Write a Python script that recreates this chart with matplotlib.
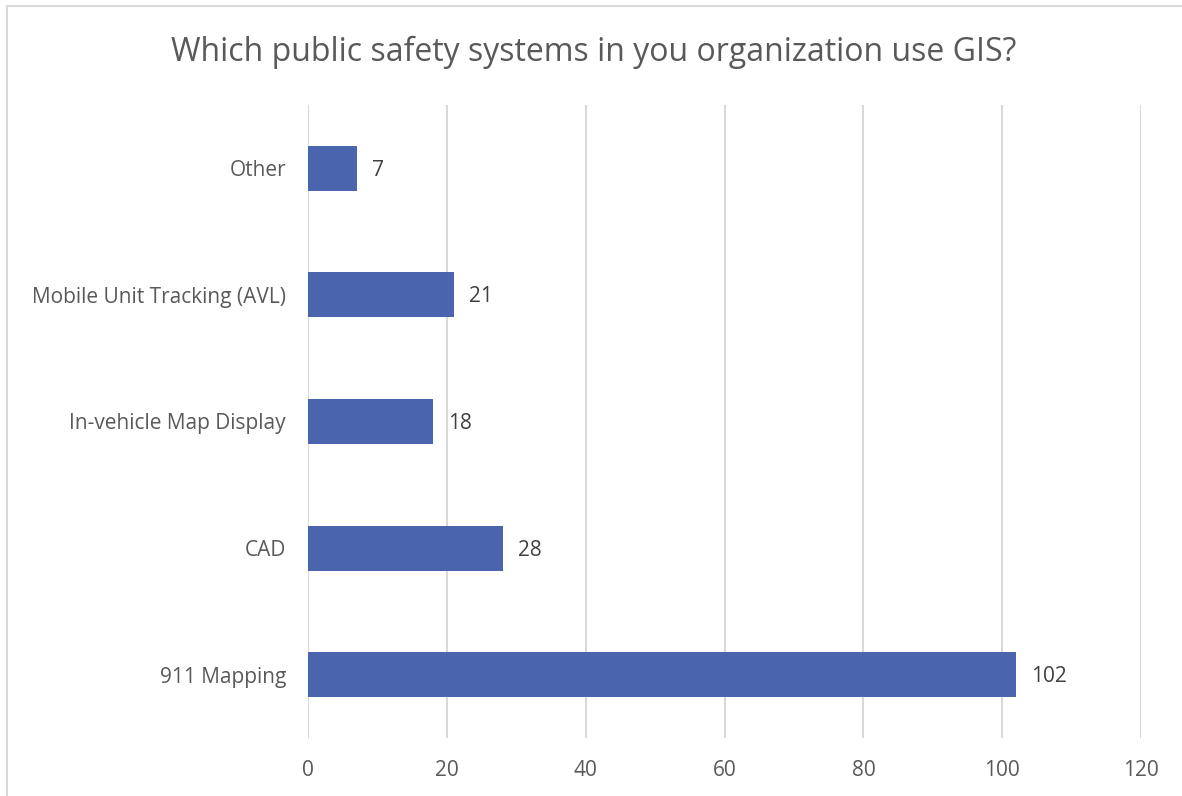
import matplotlib
matplotlib.use("Agg")
import matplotlib.pyplot as plt
from matplotlib.patches import Rectangle

categories = ["911 Mapping", "CAD", "In-vehicle Map Display", "Mobile Unit Tracking (AVL)", "Other"]
values = [102, 28, 18, 21, 7]
xticks = [0, 20, 40, 60, 80, 100, 120]
title = "Which public safety systems in you organization use GIS?"

W, H = 1182, 796
plt.rcParams['font.family'] = ['Open Sans', 'DejaVu Sans']
fig = plt.figure(figsize=(W / 100, H / 100), dpi=100)
ax = fig.add_axes([308.3 / W, (H - 738) / H, (1141 - 308.3) / W, (738 - 105) / H])

txt = "#595959"
ax.barh(range(len(categories)), values, height=0.355, color="#4A65AD", zorder=3)
for i, v in enumerate(values):
    ax.annotate(str(v), (v, i), xytext=(11, -1.5), textcoords="offset points",
                va="center", ha="left", fontsize=15, color="#404040")

ax.set_xlim(0, 120)
ax.set_ylim(-0.5, len(categories) - 0.5)
ax.set_xticks(xticks)
ax.set_xticklabels([str(t) for t in xticks])
ax.set_yticks(range(len(categories)))
ax.set_yticklabels(categories)
ax.tick_params(axis="both", length=0, labelsize=15, colors=txt)
ax.tick_params(axis="x", pad=16)
ax.tick_params(axis="y", pad=16)
ax.grid(axis="x", color="#D9D9D9", linewidth=1.5, zorder=0)
for s in ax.spines.values():
    s.set_visible(False)

fig.text(594 / W, 1 - 52 / H, title, ha="center", va="center", fontsize=23, color=txt)

fig.patches.append(Rectangle((7 / W, -0.1), 1.2, 1 - 6 / H + 0.1, transform=fig.transFigure,
                             fill=False, edgecolor="#D9D9D9", linewidth=1.5))

fig.savefig("out.png", dpi=100)
